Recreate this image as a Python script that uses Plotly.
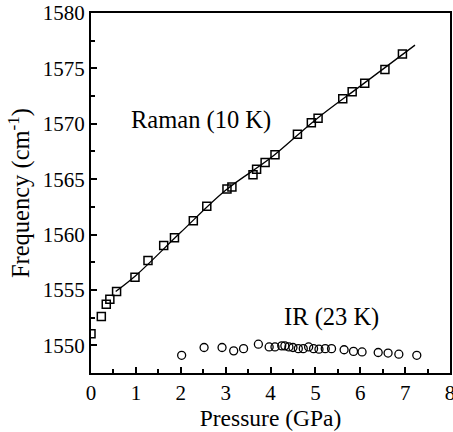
import plotly.graph_objects as go

# Raman (10 K) data: pressure (GPa), frequency (cm^-1)
raman_p = [0.0, 0.23, 0.34, 0.42, 0.57, 0.98, 1.27, 1.62, 1.86, 2.28, 2.58,
           3.03, 3.14, 3.61, 3.69, 3.88, 4.10, 4.60, 4.91, 5.06, 5.61, 5.82,
           6.10, 6.55, 6.94]
raman_f = [1551.05, 1552.6, 1553.7, 1554.15, 1554.85, 1556.15, 1557.65, 1559.0,
           1559.7, 1561.25, 1562.55, 1564.1, 1564.3, 1565.4, 1565.9, 1566.5,
           1567.2, 1569.05, 1570.1, 1570.5, 1572.25, 1572.9, 1573.65, 1574.9,
           1576.3]

# Fitted line through the Raman points
fit_p = [0.55, 1.0, 2.0, 3.0, 4.0, 5.0, 6.0, 7.22]
fit_f = [1554.85, 1556.3, 1560.2, 1564.0, 1566.9, 1570.35, 1573.4, 1577.1]

# IR (23 K) data
ir_p = [2.02, 2.52, 2.92, 3.18, 3.40, 3.73, 3.97, 4.10, 4.25, 4.32, 4.41, 4.50,
        4.62, 4.73, 4.85, 4.96, 5.08, 5.22, 5.36, 5.64, 5.85, 6.04, 6.40, 6.62,
        6.86, 7.26]
ir_f = [1549.1, 1549.8, 1549.8, 1549.5, 1549.7, 1550.1, 1549.85, 1549.85,
        1549.95, 1549.95, 1549.85, 1549.8, 1549.7, 1549.7, 1549.85, 1549.7,
        1549.65, 1549.7, 1549.7, 1549.6, 1549.45, 1549.4, 1549.35, 1549.3,
        1549.2, 1549.1]

x_ticks = [0, 1, 2, 3, 4, 5, 6, 7, 8]
y_ticks = [1550, 1555, 1560, 1565, 1570, 1575, 1580]

FONT = "Liberation Serif"

fig = go.Figure()
fig.add_trace(go.Scatter(x=fit_p, y=fit_f, mode="lines", line=dict(color="black", width=1.3, shape="spline"),
                         showlegend=False, hoverinfo="skip"))
fig.add_trace(go.Scatter(x=raman_p, y=raman_f, mode="markers",
                         marker=dict(symbol="square-open", size=8, color="black", line=dict(width=1.5)),
                         showlegend=False))
fig.add_trace(go.Scatter(x=ir_p, y=ir_f, mode="markers",
                         marker=dict(symbol="circle-open", size=8, color="black", line=dict(width=1.3)),
                         showlegend=False))

axis_common = dict(showline=True, linecolor="black", linewidth=2, mirror=True,
                   ticks="inside", ticklen=6, tickwidth=1.5, tickcolor="black",
                   showgrid=False, zeroline=False, automargin=False,
                   ticklabeloverflow="allow",
                   tickfont=dict(family=FONT, size=21, color="black"))

fig.update_xaxes(range=[0, 8], tickvals=x_ticks,
                 minor=dict(ticks="inside", ticklen=4, tickwidth=1.5, dtick=0.5, tick0=0, tickcolor="black"),
                 title=dict(text="Pressure (GPa)", font=dict(family=FONT, size=23.5, color="black"), standoff=0),
                 **axis_common)
fig.update_yaxes(range=[1547.5, 1580], tickvals=y_ticks,
                 minor=dict(ticks="inside", ticklen=4, tickwidth=1.5, dtick=2.5, tick0=1550, tickcolor="black"),
                 title=dict(text="Frequency (cm<sup>-1</sup>)", font=dict(family=FONT, size=24.5, color="black"), standoff=6),
                 **axis_common)

fig.add_annotation(x=2.45, y=1570.3, text="Raman (10 K)", showarrow=False,
                   font=dict(family=FONT, size=24.5, color="black"))
fig.add_annotation(x=5.35, y=1552.55, text="IR (23 K)", showarrow=False,
                   font=dict(family=FONT, size=24.5, color="black"))

fig.update_layout(width=453, height=432, margin=dict(l=91, r=3, t=13, b=59),
                  plot_bgcolor="white", paper_bgcolor="white")

# remove the browser's default 8px body margin so the figure fills the window
fig.write_html("out.html", config={"displayModeBar": False},
               post_script="document.body.style.margin='0';")
